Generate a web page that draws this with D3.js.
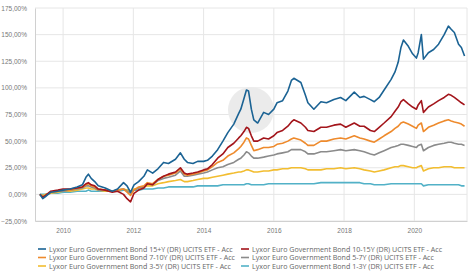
<!DOCTYPE html>
<html>
<head>
<meta charset="utf-8">
<script src="https://cdn.jsdelivr.net/npm/d3@7"></script>
<style>
  body { margin: 0; background: #fff; }
  svg { display: block; font-family: "Open Sans", sans-serif; }
</style>
</head>
<body>
<div id="chart"></div>
<script>
// decimal years
const dates = [
  2009.34, 2009.42, 2009.5, 2009.65, 2009.85, 2010.0, 2010.2, 2010.4, 2010.55, 2010.65,
  2010.72, 2010.8, 2010.9, 2011.0, 2011.2, 2011.4, 2011.55, 2011.72, 2011.82, 2011.92,
  2012.02, 2012.15, 2012.3, 2012.4, 2012.55, 2012.7, 2012.86, 2013.0, 2013.2, 2013.34,
  2013.45, 2013.54, 2013.7, 2013.83, 2014.0, 2014.11, 2014.25, 2014.4, 2014.55, 2014.69,
  2014.86, 2015.0, 2015.06, 2015.15, 2015.22, 2015.28, 2015.36, 2015.43, 2015.54, 2015.71,
  2015.85, 2016.0, 2016.09, 2016.25, 2016.4, 2016.5, 2016.57, 2016.77, 2016.9, 2016.97,
  2017.14, 2017.34, 2017.5, 2017.71, 2017.9, 2018.05, 2018.29, 2018.45, 2018.57, 2018.75,
  2018.86, 2019.0, 2019.14, 2019.34, 2019.45, 2019.54, 2019.62, 2019.69, 2019.83, 2019.95,
  2020.06, 2020.11, 2020.2, 2020.26, 2020.4, 2020.55, 2020.69, 2020.85, 2020.97, 2021.05,
  2021.14, 2021.26, 2021.34, 2021.43
];

const bond15y = [
  0, -4, -2, 2, 3, 4, 5, 7, 9, 16,
  19, 15, 12, 8, 6, 3, 5, 11, 8, 2,
  9, 12, 17, 23, 20, 24, 30, 29, 33, 39,
  33, 30, 29, 31, 31, 32, 36, 42, 50, 58,
  66, 76, 80, 90, 98, 97, 80, 70, 67, 77,
  75, 80, 86, 88, 97, 107, 109, 105, 93, 86,
  80, 87, 86, 89, 91, 88, 96, 91, 92, 89,
  87, 91, 98, 108, 115, 124, 138, 145, 139, 132,
  128, 133, 150, 127, 133, 136, 141, 150, 158, 155,
  152, 141, 138, 130
];
const bond10_15y = [
  0, -3, -1, 3, 4, 5, 5, 6, 7, 10,
  11, 9, 8, 5, 4, 2, 3, 0, -4, -7,
  1, 4, 6, 10, 9, 14, 17, 19, 21, 25,
  20, 19, 20, 21, 23, 24, 28, 34, 38, 44,
  48, 53, 55, 59, 63, 62, 55, 50, 50, 53,
  52, 55, 58, 60, 64, 68, 70, 67, 63, 60,
  59, 63, 63, 65, 66, 63, 67, 64, 64, 60,
  59, 63, 67, 73, 78, 82, 87, 89, 85, 82,
  80, 84, 88, 77, 82, 85, 88, 91, 94, 93,
  91, 88, 86, 84
];
const bond7_10y = [
  0, -2, -1, 2, 3, 4, 4, 6, 7, 9,
  10, 8, 7, 5, 4, 3, 4, 5, 2, -1,
  4, 7, 8, 11, 10, 14, 17, 18, 20, 24,
  19, 18, 19, 20, 22, 23, 26, 30, 32, 36,
  39, 43, 45, 49, 53, 52, 46, 41, 42, 44,
  44, 45, 47, 48, 50, 52, 53, 51, 48, 46,
  46, 50, 50, 52, 53, 52, 55, 53, 52, 50,
  49, 52, 55, 59, 62, 64, 67, 68, 66, 64,
  62, 65, 67, 59, 63, 65, 67, 69, 70, 69,
  68, 67, 66, 64
];
const bond5_7y = [
  0, -2, -1, 2, 3, 3, 4, 5, 6, 8,
  8, 7, 6, 4, 4, 3, 4, 5, 3, 1,
  4, 6, 7, 10, 9, 13, 15, 16, 18, 22,
  17, 17, 18, 19, 20, 21, 23, 25, 26, 28,
  30, 33, 34, 37, 40, 39, 36, 34, 34, 35,
  36, 37, 38, 39, 40, 42, 42, 42, 40, 38,
  38, 40, 40, 41, 42, 41, 42, 41, 40, 38,
  37, 39, 41, 44, 45, 46, 47, 47, 46, 45,
  44, 46, 47, 41, 44, 46, 47, 48, 49, 49,
  48, 47, 47, 46
];
const bond3_5y = [
  0, -1, 0, 1, 2, 3, 3, 4, 5, 6,
  6, 5, 5, 4, 3, 3, 4, 5, 4, 3,
  5, 6, 7, 8, 8, 10, 11, 12, 13, 14,
  12, 12, 13, 14, 15, 15, 16, 17, 18, 19,
  20, 21, 21, 22, 23, 23, 22, 21, 21, 22,
  22, 23, 23, 24, 24, 25, 25, 25, 24, 23,
  23, 23, 24, 24, 25, 24, 25, 24, 23, 22,
  21, 22, 23, 25, 26, 26, 27, 27, 26, 25,
  25, 26, 27, 22, 24, 25, 25, 26, 26, 26,
  25, 25, 25, 25
];
const bond1_3y = [
  0, 0, 0, 1, 1, 2, 2, 3, 3, 3,
  4, 3, 3, 3, 3, 3, 3, 4, 4, 3,
  4, 4, 5, 5, 5, 6, 6, 7, 7, 7,
  7, 7, 7, 8, 8, 8, 8, 8, 9, 9,
  9, 9, 9, 9, 10, 10, 9, 9, 9, 9,
  10, 10, 10, 10, 10, 10, 10, 10, 10, 10,
  10, 11, 11, 11, 11, 11, 11, 11, 10, 10,
  9, 9, 9, 10, 10, 10, 10, 10, 10, 10,
  10, 10, 10, 8, 9, 9, 9, 9, 9, 9,
  9, 9, 8, 8
];

const seriesNames = [
  "Lyxor Euro Government Bond 15+Y (DR) UCITS ETF - Acc",
  "Lyxor Euro Government Bond 10-15Y (DR) UCITS ETF - Acc",
  "Lyxor Euro Government Bond 7-10Y (DR) UCITS ETF - Acc",
  "Lyxor Euro Government Bond 5-7Y (DR) UCITS ETF - Acc",
  "Lyxor Euro Government Bond 3-5Y (DR) UCITS ETF - Acc",
  "Lyxor Euro Government Bond 1-3Y (DR) UCITS ETF - Acc"
];
const seriesValues = [bond15y, bond10_15y, bond7_10y, bond5_7y, bond3_5y, bond1_3y];
const seriesColors = ["#1b6394", "#a3151b", "#ee8a2c", "#8b8b8b", "#f2bd30", "#52b1c7"];

const yTicks = [-25, 0, 25, 50, 75, 100, 125, 150, 175];
const xTicks = [2010, 2012, 2014, 2016, 2018, 2020];

const width = 474, height = 273;
const margin = { top: 8, right: 7, bottom: 52, left: 35 };

const svg = d3.select("#chart").append("svg")
  .attr("width", width)
  .attr("height", height);

const x = d3.scaleLinear()
  .domain([2009.2, 2021.5])
  .range([margin.left, width - margin.right]);

const y = d3.scaleLinear()
  .domain([-25, 175])
  .range([height - margin.bottom, margin.top]);

const fmt = v => d3.format(".2f")(v).replace(".", ",") + "%";

// grid
svg.append("g")
  .selectAll("line.h")
  .data(yTicks)
  .join("line")
  .attr("x1", margin.left).attr("x2", width - margin.right)
  .attr("y1", d => y(d)).attr("y2", d => y(d))
  .attr("stroke", "#e6e6e6").attr("stroke-width", 1);

svg.append("g")
  .selectAll("line.v")
  .data(xTicks.concat([2021.5]))
  .join("line")
  .attr("x1", d => x(d)).attr("x2", d => x(d))
  .attr("y1", margin.top).attr("y2", height - margin.bottom)
  .attr("stroke", "#e6e6e6").attr("stroke-width", 1);

// axes
const yAxis = svg.append("g")
  .attr("transform", `translate(${margin.left},0)`)
  .call(d3.axisLeft(y).tickValues(yTicks).tickFormat(fmt).tickSize(0).tickPadding(8));
yAxis.select(".domain").attr("stroke", "#d0d0d0");
yAxis.selectAll("text").attr("fill", "#777").style("font-size", "6.5px");

const xAxis = svg.append("g")
  .attr("transform", `translate(0,${height - margin.bottom})`)
  .call(d3.axisBottom(x).tickValues(xTicks).tickFormat(d3.format("d")).tickSize(0).tickPadding(7));
xAxis.select(".domain").attr("stroke", "#d0d0d0");
xAxis.selectAll("text").attr("fill", "#777").style("font-size", "6.5px");

// watermark
svg.append("circle")
  .attr("cx", 251).attr("cy", 110).attr("r", 23)
  .attr("fill", "#ebebeb");

// lines
const line = d3.line()
  .x((d, i) => x(dates[i]))
  .y(d => y(d));

svg.append("g")
  .selectAll("path")
  .data(seriesValues.map((v, i) => ({ v, i })).reverse())
  .join("path")
  .attr("d", d => line(d.v))
  .attr("fill", "none")
  .attr("stroke", d => seriesColors[d.i])
  .attr("stroke-width", 1.6)
  .attr("stroke-linejoin", "round");

// legend
const legend = svg.append("g").style("font-size", "7.1px");
const legendPos = [
  [38, 249], [241, 249],
  [38, 257.5], [241, 257.5],
  [38, 266], [241, 266]
];
seriesNames.forEach((name, k) => {
  const [lx, ly] = legendPos[k];
  const g = legend.append("g").attr("transform", `translate(${lx},${ly})`);
  g.append("line")
    .attr("x1", 0).attr("x2", 8).attr("y1", 0).attr("y2", 0)
    .attr("stroke", seriesColors[k]).attr("stroke-width", 1.6);
  g.append("text")
    .attr("x", 11).attr("y", 0).attr("dy", "0.35em")
    .attr("fill", "#666")
    .text(name);
});
</script>
</body>
</html>
